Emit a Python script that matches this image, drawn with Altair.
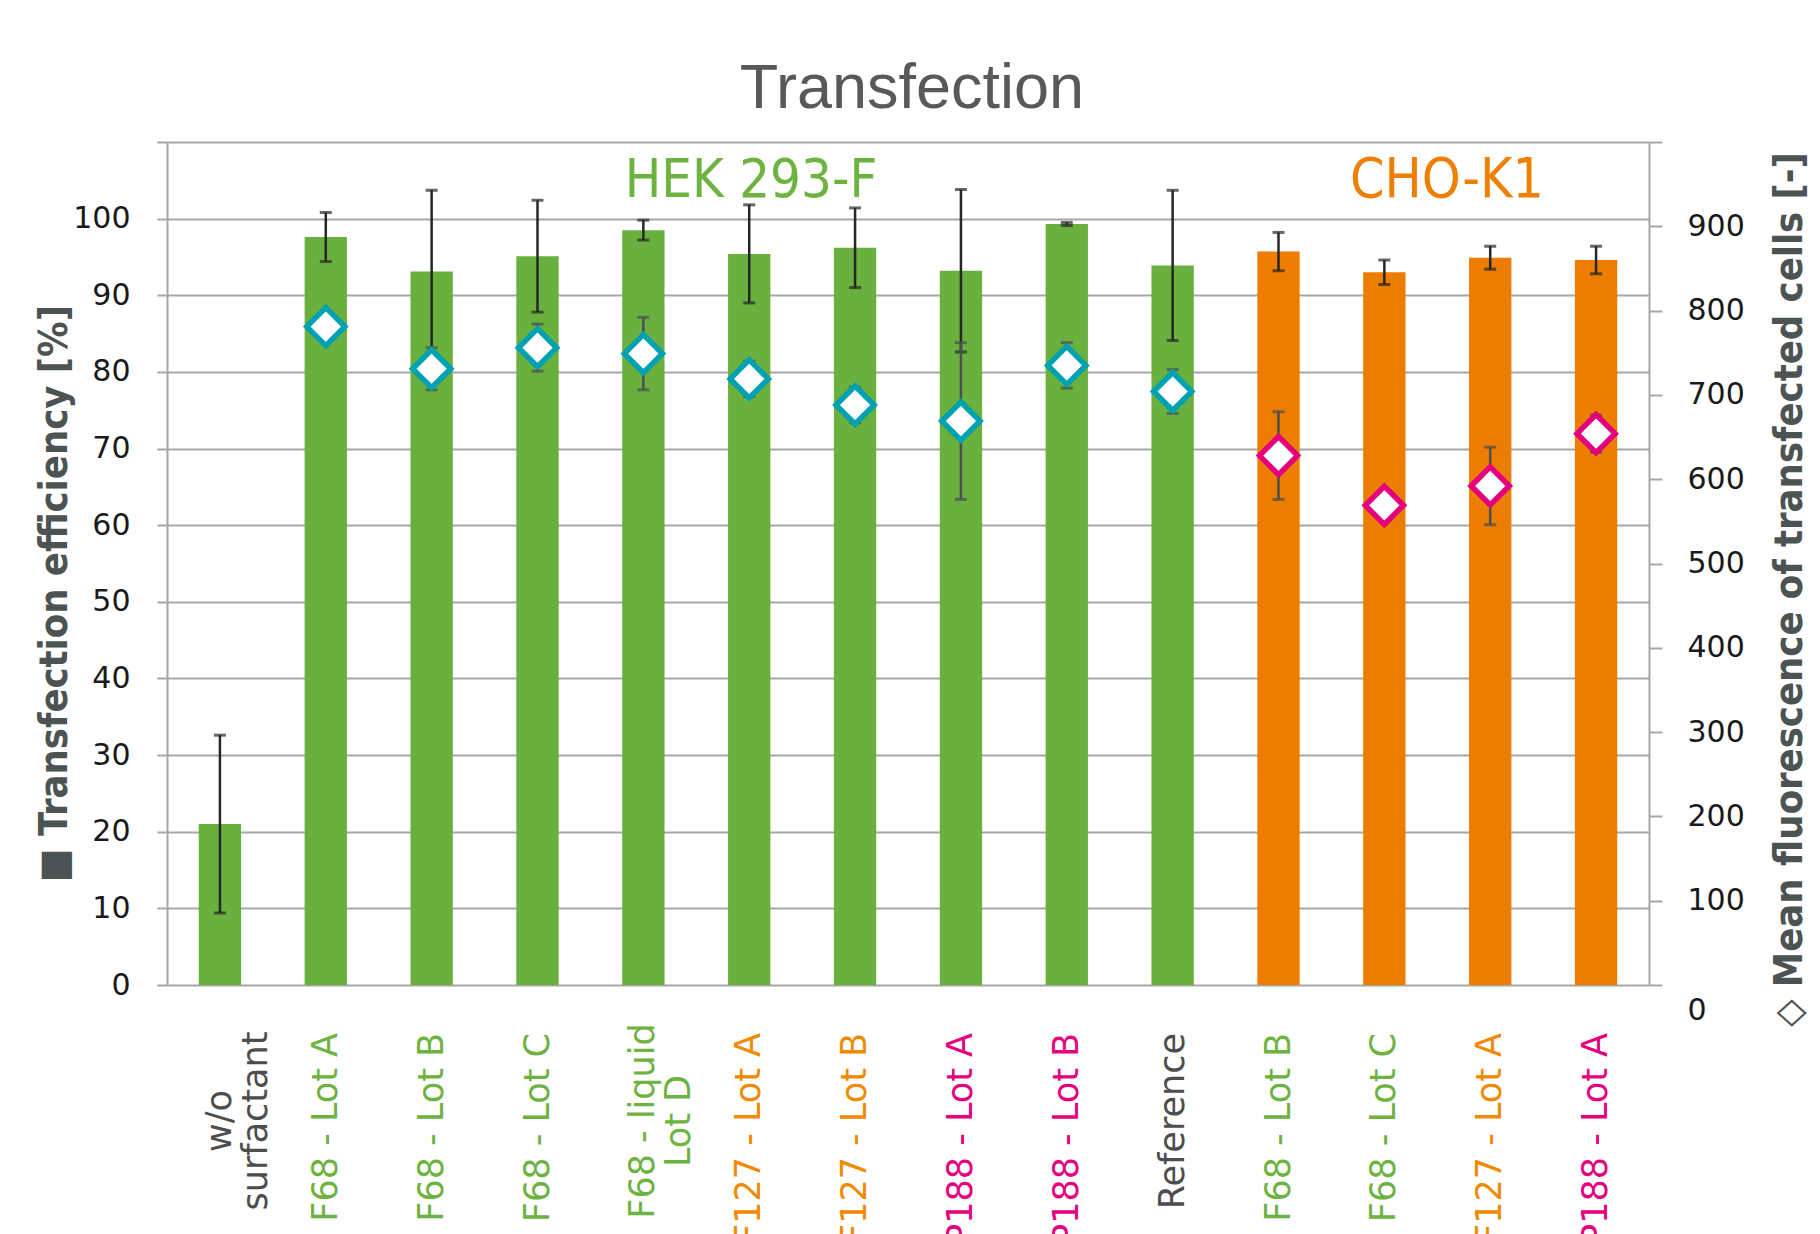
import altair as alt
import pandas as pd

# ---------------- data ----------------
labels = ["w/o\nsurfactant", "F68 - Lot A", "F68 - Lot B", "F68 - Lot C",
          "F68 - liquid\nLot D", "F127 - Lot A", "F127 - Lot B", "P188 - Lot A",
          "P188 - Lot B", "Reference", "F68 - Lot B", "F68 - Lot C",
          "F127 - Lot A", "P188 - Lot A"]
cell_line = ["HEK"] * 10 + ["CHO"] * 4
surfactant = ["none", "F68", "F68", "F68", "F68", "F127", "F127", "P188",
              "P188", "none", "F68", "F68", "F127", "P188"]
efficiency = [21.0, 97.6, 93.1, 95.1, 98.5, 95.4, 96.2, 93.2, 99.3, 93.9,
              95.7, 93.0, 94.9, 94.6]
efficiency_sd = [11.6, 3.2, 10.6, 7.3, 1.3, 6.4, 5.2, 10.6, 0.2, 9.8,
                 2.5, 1.6, 1.5, 1.8]
fluorescence = [None, 781, 731, 756, 749, 719, 688, 669, 735, 704,
                628, 569, 592, 654]
fluorescence_sd = [None, 10, 25, 28, 43, 21, 21, 93, 27, 26,
                   52, 12, 46, 22]
left_ticks = list(range(0, 111, 10))
right_ticks = list(range(0, 1001, 100))
cell_line_names = ["HEK 293-F", "CHO-K1"]
chart_title = ["Transfection"]
left_title = "■ Transfection efficiency [%]"
right_title = "◇ Mean fluorescence of transfected cells [-]"

df = pd.DataFrame({
    "key": [f"{c}|{l}" for c, l in zip(cell_line, labels)],
    "label": labels,
    "cell": cell_line,
    "stype": surfactant,
    "eff": efficiency,
    "eff_sd": efficiency_sd,
    "mfi": fluorescence,
    "mfi_sd": fluorescence_sd,
})
order = list(df["key"])

W, H = 1482, 843
GRAY = "#a6a6a6"
TITLE_COL = "#4b5452"
NARROW = "Liberation Sans Narrow, DejaVu Sans Condensed, sans-serif"

x = alt.X("key:N", sort=order,
          scale=alt.Scale(paddingInner=0.6, paddingOuter=0.3), axis=None)

left_axis = alt.Axis(
    values=left_ticks, labelExpr="datum.value > 100 ? '' : datum.label",
    grid=True, gridColor=GRAY, gridWidth=2,
    domainColor=GRAY, domainWidth=2, tickColor=GRAY, tickWidth=2, tickSize=10,
    labelFont="DejaVu Sans", labelFontSize=30, labelColor="#1a1a1a",
    labelPadding=27,
    title=left_title, titleFont=NARROW, titleFontSize=39.5, titleFontWeight="bold",
    titleColor=TITLE_COL, titleAngle=270, titleAlign="center",
    titleBaseline="alphabetic", titleX=-101, titleY=451)

right_axis = alt.Axis(
    orient="right", values=right_ticks,
    labelExpr="datum.value >= 1000 ? '' : datum.label",
    grid=False, domainColor=GRAY, domainWidth=2, tickColor=GRAY, tickWidth=2,
    tickSize=13,
    labelFont="DejaVu Sans", labelFontSize=30, labelColor="#1a1a1a",
    labelPadding=25,
    labelOffset={"condition": {"test": "datum.value === 0", "value": 25}, "value": 0},
    title=right_title, titleFont=NARROW, titleFontSize=39.5, titleFontWeight="bold",
    titleColor=TITLE_COL, titleAngle=270, titleAlign="center",
    titleBaseline="alphabetic", titleX=152, titleY=447)

yl_scale = alt.Scale(domain=[0, 110], nice=False, zero=True)
yr_scale = alt.Scale(domain=[0, 1000], nice=False, zero=True)

base = alt.Chart(df).transform_calculate(
    elo="datum.eff - datum.eff_sd",
    ehi="datum.eff + datum.eff_sd",
    mlo="datum.mfi - datum.mfi_sd",
    mhi="datum.mfi + datum.mfi_sd",
    barcol="datum.cell == 'HEK' ? '#6ab03f' : '#ec7d00'",
    ptcol="datum.cell == 'HEK' ? '#00a2b1' : '#e4007c'",
    labcol=("datum.stype == 'F68' ? '#6db33f' : datum.stype == 'F127' ? '#f08a00' : "
            "datum.stype == 'P188' ? '#e5007e' : '#4d4d4d'"),
)

bars = base.mark_bar().encode(
    x=x,
    y=alt.Y("eff:Q", scale=yl_scale, axis=left_axis),
    color=alt.Color("barcol:N", scale=None),
)
err_rule = base.mark_rule(color="#262626", strokeWidth=2.5).encode(
    x=x, y=alt.Y("elo:Q", scale=yl_scale, axis=left_axis), y2="ehi:Q")
err_hi = base.mark_tick(color="#262626", thickness=3, size=12).encode(
    x=x, y=alt.Y("ehi:Q", scale=yl_scale, axis=left_axis))
err_lo = base.mark_tick(color="#262626", thickness=3, size=12).encode(
    x=x, y=alt.Y("elo:Q", scale=yl_scale, axis=left_axis))
left = alt.layer(bars, err_rule, err_hi, err_lo)

pbase = base.transform_filter("isValid(datum.mfi)")
m_rule = pbase.mark_rule(color="#4a4f4f", strokeWidth=2.5).encode(
    x=x, y=alt.Y("mlo:Q", scale=yr_scale, axis=right_axis), y2="mhi:Q")
m_hi = pbase.mark_tick(color="#4a4f4f", thickness=3, size=12).encode(
    x=x, y=alt.Y("mhi:Q", scale=yr_scale, axis=right_axis))
m_lo = pbase.mark_tick(color="#4a4f4f", thickness=3, size=12).encode(
    x=x, y=alt.Y("mlo:Q", scale=yr_scale, axis=right_axis))
pts = pbase.mark_point(shape="diamond", filled=True, fill="white", size=1450,
                       strokeWidth=5.5, opacity=1).encode(
    x=x, y=alt.Y("mfi:Q", scale=yr_scale, axis=right_axis),
    stroke=alt.Stroke("ptcol:N", scale=None))
right = alt.layer(m_rule, m_hi, m_lo, pts)

# category labels under the bars: single-line ones start at the top,
# two-line ones are centred line by line
xlab_single = base.transform_filter("indexof(datum.label, '\\n') < 0").mark_text(
    angle=270, align="right", baseline="middle", font="DejaVu Sans",
    fontSize=35).encode(
    x=x, y=alt.value(891), text="label:N",
    color=alt.Color("labcol:N", scale=None))
xlab_multi = base.transform_filter("indexof(datum.label, '\\n') >= 0").mark_text(
    angle=270, align="center", baseline="middle", font="DejaVu Sans",
    fontSize=35, lineBreak="\n", lineHeight=36).encode(
    x=x, y=alt.value(979), text="label:N",
    color=alt.Color("labcol:N", scale=None))

ann_df = pd.DataFrame({"name": cell_line_names})
hek = alt.Chart(ann_df).transform_filter(f"datum.name == '{cell_line_names[0]}'").mark_text(
    font=NARROW, fontSize=54, color="#6cb33f", align="center",
    baseline="alphabetic").encode(x=alt.value(584), y=alt.value(55), text="name:N")
cho = alt.Chart(ann_df).transform_filter(f"datum.name == '{cell_line_names[1]}'").mark_text(
    font=NARROW, fontSize=55, color="#ee7f00", align="center",
    baseline="alphabetic").encode(x=alt.value(1280), y=alt.value(55), text="name:N")

title_df = pd.DataFrame({"title": chart_title})
title = alt.Chart(title_df).mark_text(
    font="Liberation Sans", fontSize=63, color="#595959", align="center",
    baseline="alphabetic").encode(x=alt.value(745), y=alt.value(-34), text="title:N")

chart = alt.layer(left, right, xlab_single, xlab_multi, hek, cho, title).resolve_scale(
    y="independent"
).properties(
    width=W, height=H,
    autosize=alt.AutoSizeParams(type="none"),
    padding={"left": 159, "top": 134, "right": 163, "bottom": 249},
).configure_view(stroke=None)

chart.save("out.html", embed_options={"renderer": "svg", "actions": False})
